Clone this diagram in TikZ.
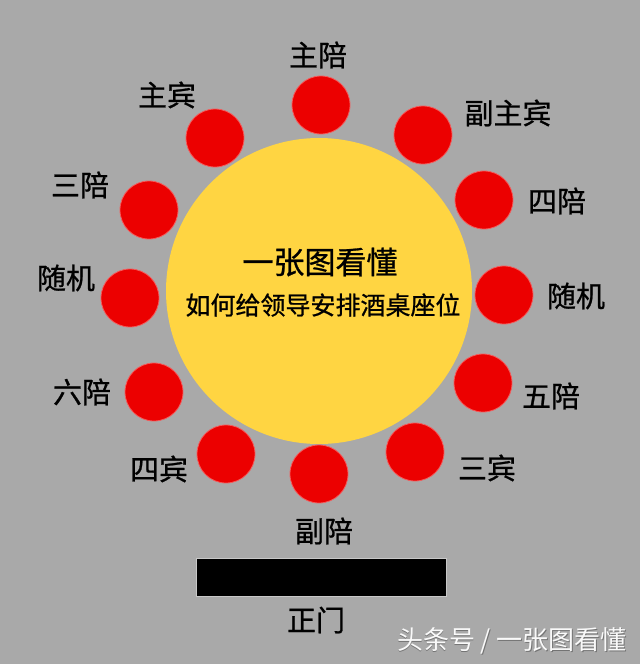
\documentclass[tikz,border=0pt]{standalone}
\usepackage{fontspec}
\newfontfamily\cjk[FakeBold=0.8]{Noto Sans CJK SC}
\newfontfamily\cjkthin{Noto Sans CJK SC}
\definecolor{bg}{RGB}{169,169,169}
\definecolor{tablecol}{RGB}{255,213,66}
\definecolor{seatred}{RGB}{236,0,0}
\definecolor{seatedge}{RGB}{245,90,90}
\begin{document}
\begin{tikzpicture}[x=1pt,y=-1pt,
  seat/.style={circle,fill=seatred,draw=seatedge,line width=0.8pt,minimum size=58pt,inner sep=0pt},
  lbl/.style={font=\cjk\fontsize{29}{32}\selectfont,text=black,inner sep=0pt},
]
\fill[bg] (0,0) rectangle (640,664);
\useasboundingbox (0,0) rectangle (640,664);
% table
\node[circle,fill=tablecol,minimum size=306pt,inner sep=0pt] (table) at (319,291) {};
\node[font=\cjk\fontsize{31}{34}\selectfont,inner sep=0pt] (t1) at (320,262) {一张图看懂};
\node[font=\cjk\fontsize{25}{28}\selectfont,inner sep=0pt] (t2) at (323,305) {如何给领导安排酒桌座位};
% seats
\node[seat] (s1) at (321,105) {};
\node[seat] (s2) at (423,135) {};
\node[seat] (s3) at (484,200) {};
\node[seat] (s4) at (504,295) {};
\node[seat] (s5) at (483,383) {};
\node[seat] (s6) at (415,452) {};
\node[seat] (s7) at (319,474) {};
\node[seat] (s8) at (226,454) {};
\node[seat] (s9) at (154,392) {};
\node[seat] (s10) at (130,298) {};
\node[seat] (s11) at (149,210) {};
\node[seat] (s12) at (215,138) {};
% labels
\node[lbl] (l1) at (318,55) {主陪};
\node[lbl] (l2) at (508,113) {副主宾};
\node[lbl] (l3) at (557,201) {四陪};
\node[lbl] (l4) at (576,296) {随机};
\node[lbl] (l5) at (551,396) {五陪};
\node[lbl] (l6) at (487,468) {三宾};
\node[lbl] (l7) at (324,531) {副陪};
\node[lbl] (l8) at (159,469) {四宾};
\node[lbl] (l9) at (82,392) {六陪};
\node[lbl] (l10) at (66,278) {随机};
\node[lbl] (l11) at (80,185) {三陪};
\node[lbl] (l12) at (167,95) {主宾};
% door
\node[fill=black,draw={rgb,255:red,200;green,200;blue,200},line width=0.8pt,minimum width=250pt,minimum height=38pt,inner sep=0pt] (door) at (321,577.5) {};
\node[lbl] (doorlbl) at (316,620) {正门};
% watermark
\node[font=\cjkthin\fontsize{26}{28}\selectfont,text=black!55,inner sep=0pt] (wms) at (512.8,641.8) {头条号 / 一张图看懂};
\node[font=\cjkthin\fontsize{26}{28}\selectfont,text=white!95!gray,inner sep=0pt] (wm) at (512,641) {头条号 / 一张图看懂};
\end{tikzpicture}
\end{document}
